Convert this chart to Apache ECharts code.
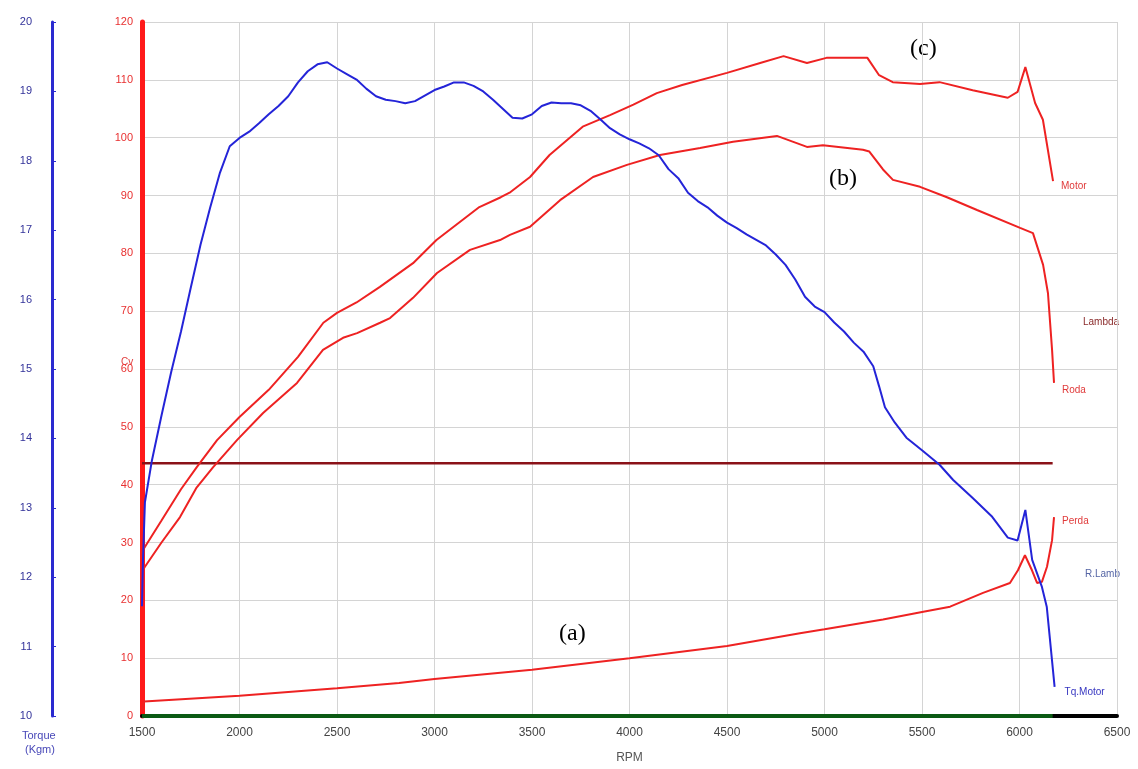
<!DOCTYPE html>
<html>
<head>
<meta charset="utf-8">
<script src="https://cdn.jsdelivr.net/npm/echarts@6/dist/echarts.min.js"></script>
<style>
  html, body { margin: 0; padding: 0; background: #fff; }
  #chart { width: 1138px; height: 769px; }
</style>
</head>
<body>
<div id="chart"></div>
<script>
// curva (c): potência no motor (Cv)
const motorRpm = [1500, 1505, 1600, 1700, 1780, 1885, 2000, 2150, 2300, 2430, 2500, 2600, 2720, 2890, 3010, 3230, 3340, 3390, 3490, 3590, 3760, 3900, 4020, 4140, 4270, 4500, 4670, 4790, 4910, 5010, 5220, 5280, 5350, 5490, 5590, 5760, 5940, 5990, 6030, 6080, 6120, 6172]
const motorCv = [27.5, 28.7, 33.8, 39.2, 43, 47.7, 51.7, 56.4, 62.1, 68, 69.7, 71.5, 74.2, 78.3, 82.3, 88, 89.7, 90.6, 93.2, 97, 101.9, 103.9, 105.7, 107.7, 109.1, 111.2, 112.9, 114.1, 112.9, 113.8, 113.8, 110.8, 109.6, 109.3, 109.6, 108.2, 106.9, 107.9, 112.2, 106, 103.1, 92.5]

// curva (b): potência na roda (Cv)
const rodaRpm = [1500, 1515, 1600, 1695, 1780, 1864, 1987, 2121, 2295, 2428, 2531, 2603, 2721, 2772, 2890, 3013, 3182, 3336, 3387, 3490, 3644, 3813, 3987, 4156, 4362, 4531, 4756, 4910, 4992, 5197, 5230, 5300, 5351, 5490, 5628, 5782, 6003, 6069, 6121, 6146, 6167, 6177]
const rodaCv = [25, 25.8, 30, 34.4, 39.5, 43, 47.7, 52.4, 57.6, 63.3, 65.4, 66.2, 68, 68.8, 72.3, 76.6, 80.6, 82.3, 83.2, 84.6, 89.2, 93.2, 95.3, 97, 98.2, 99.3, 100.3, 98.4, 98.7, 97.9, 97.6, 94.5, 92.7, 91.5, 89.7, 87.5, 84.4, 83.5, 78, 73.1, 63.3, 57.6]

// curva (a): perdas (Cv)
const perdaRpm = [1500, 1510, 2000, 2500, 2818, 3000, 3500, 4000, 4500, 4874, 5000, 5300, 5500, 5644, 5813, 5951, 5992, 6028, 6064, 6090, 6115, 6141, 6167, 6177]
const perdaCv = [1, 2.5, 3.5, 4.8, 5.7, 6.4, 8, 10, 12.1, 14.3, 15, 16.7, 18, 18.9, 21.3, 23, 25.2, 27.8, 25.2, 23, 23.2, 25.8, 30.4, 34.4]

// torque do motor (Kgm)
const torqueRpm = [1500, 1505, 1515, 1550, 1600, 1650, 1700, 1750, 1800, 1850, 1900, 1950, 2000, 2050, 2100, 2150, 2200, 2250, 2300, 2350, 2400, 2450, 2500, 2550, 2600, 2650, 2700, 2750, 2800, 2850, 2900, 2950, 3000, 3050, 3100, 3150, 3200, 3250, 3300, 3350, 3400, 3450, 3500, 3550, 3600, 3650, 3700, 3750, 3800, 3850, 3900, 3950, 4000, 4050, 4100, 4150, 4200, 4250, 4300, 4350, 4400, 4450, 4500, 4550, 4600, 4650, 4700, 4750, 4800, 4850, 4900, 4950, 5000, 5050, 5100, 5150, 5200, 5250, 5280, 5310, 5360, 5420, 5500, 5590, 5660, 5760, 5860, 5940, 5990, 6030, 6065, 6115, 6140, 6180]
const torqueKgm = [11.58, 12.25, 13.08, 13.67, 14.33, 14.96, 15.54, 16.17, 16.79, 17.33, 17.83, 18.21, 18.33, 18.42, 18.54, 18.67, 18.79, 18.93, 19.13, 19.29, 19.39, 19.42, 19.33, 19.25, 19.17, 19.04, 18.93, 18.88, 18.86, 18.83, 18.86, 18.94, 19.02, 19.07, 19.13, 19.13, 19.08, 19.0, 18.88, 18.75, 18.62, 18.61, 18.67, 18.79, 18.84, 18.83, 18.83, 18.8, 18.72, 18.6, 18.47, 18.38, 18.31, 18.25, 18.18, 18.08, 17.88, 17.75, 17.54, 17.42, 17.33, 17.21, 17.11, 17.03, 16.94, 16.86, 16.78, 16.65, 16.5, 16.29, 16.04, 15.9, 15.82, 15.67, 15.54, 15.38, 15.25, 15.04, 14.75, 14.45, 14.23, 14.01, 13.83, 13.62, 13.4, 13.14, 12.87, 12.57, 12.53, 12.97, 12.25, 11.86, 11.57, 10.42]

// lambda (linha horizontal) e linha de base verde
const lambdaRpm = [1500, 6170]
const lambdaCv = [43.7, 43.7]
const baseRpm = [1500, 6170]
const baseCv = [0, 0]

// eixos
const rpmTicks = [1500, 6500, 500]
const cvTicks = [0, 120, 10]
const torqueTicks = [10, 20, 1]

const pairs = (xs, ys) => xs.map((x, i) => [x, ys[i]])

const RED = '#ee2222'
const BLUE = '#2424d8'

const mChart = echarts.init(document.getElementById('chart'))

const options = {
  animation: false,
  backgroundColor: '#fff',
  grid: {
    left: 142,
    right: 21,
    top: 22,
    bottom: 53
  },
  xAxis: {
    type: 'value',
    min: rpmTicks[0],
    max: rpmTicks[1],
    interval: rpmTicks[2],
    name: 'RPM',
    nameLocation: 'middle',
    nameGap: 36,
    nameTextStyle: { color: '#555', fontSize: 12, fontFamily: 'Liberation Sans' },
    axisLine: { show: true, onZero: false, lineStyle: { color: '#000', width: 4 } },
    axisTick: { show: false },
    axisLabel: { color: '#444', fontSize: 12, fontFamily: 'Liberation Sans', margin: 11, formatter: (v) => String(v) },
    splitLine: { show: true, lineStyle: { color: '#d4d4d4', width: 1 } }
  },
  yAxis: [
    {
      // Cv
      type: 'value',
      position: 'left',
      min: cvTicks[0],
      max: cvTicks[1],
      interval: cvTicks[2],
      axisLine: { show: true, onZero: false, lineStyle: { color: '#ff1a1a', width: 5 } },
      axisTick: { show: false },
      axisLabel: { color: '#e83030', fontSize: 11, fontFamily: 'Liberation Sans', margin: 9 },
      splitLine: { show: true, lineStyle: { color: '#d4d4d4', width: 1 } }
    },
    {
      // Torque
      type: 'value',
      position: 'left',
      offset: 90,
      min: torqueTicks[0],
      max: torqueTicks[1],
      interval: torqueTicks[2],
      axisLine: { show: true, onZero: false, lineStyle: { color: '#2a2ad0', width: 3 } },
      axisTick: { show: true, length: 4, inside: true, lineStyle: { color: '#2a2ad0', width: 1 } },
      axisLabel: { color: '#33339a', fontSize: 11, fontFamily: 'Liberation Sans', margin: 20 },
      splitLine: { show: false }
    }
  ],
  series: [
    {
      name: 'Base',
      type: 'line',
      showSymbol: false,
      data: pairs(baseRpm, baseCv),
      lineStyle: { color: '#0b5a14', width: 4 },
      z: 3
    },
    {
      name: 'Lambda',
      type: 'line',
      showSymbol: false,
      data: pairs(lambdaRpm, lambdaCv),
      lineStyle: { color: '#8a1218', width: 2.5 }
    },
    {
      name: 'Perda',
      type: 'line',
      showSymbol: false,
      data: pairs(perdaRpm, perdaCv),
      lineStyle: { color: RED, width: 2 },
      endLabel: { show: true, formatter: 'Perda', color: '#e03a3a', fontSize: 10, fontFamily: 'Liberation Sans', offset: [0, 4] }
    },
    {
      name: 'Roda',
      type: 'line',
      showSymbol: false,
      data: pairs(rodaRpm, rodaCv),
      lineStyle: { color: RED, width: 2 },
      endLabel: { show: true, formatter: 'Roda', color: '#e03a3a', fontSize: 10, fontFamily: 'Liberation Sans', offset: [0, 7] }
    },
    {
      name: 'Motor',
      type: 'line',
      showSymbol: false,
      data: pairs(motorRpm, motorCv),
      lineStyle: { color: RED, width: 2 },
      endLabel: { show: true, formatter: 'Motor', color: '#e03a3a', fontSize: 10, fontFamily: 'Liberation Sans', offset: [0, 5] }
    },
    {
      name: 'Tq.Motor',
      type: 'line',
      yAxisIndex: 1,
      showSymbol: false,
      data: pairs(torqueRpm, torqueKgm),
      lineStyle: { color: BLUE, width: 2 },
      endLabel: { show: true, formatter: 'Tq.Motor', color: '#3535c0', fontSize: 10, fontFamily: 'Liberation Sans', offset: [2, 5] }
    }
  ],
  graphic: [
    { type: 'text', left: 22, top: 730, style: { text: 'Torque', fill: '#4848b8', font: '11px Liberation Sans' } },
    { type: 'text', left: 25, top: 744, style: { text: '(Kgm)', fill: '#4848b8', font: '11px Liberation Sans' } },
    { type: 'text', left: 121, top: 357, style: { text: 'Cv', fill: '#e03a3a', font: '10px Liberation Sans' } },
    { type: 'text', left: 1083, top: 317, style: { text: 'Lambda', fill: '#8a2a2a', font: '10px Liberation Sans' } },
    { type: 'text', left: 1085, top: 569, style: { text: 'R.Lamb', fill: '#5565a5', font: '10px Liberation Sans' } },
    { type: 'text', left: 559, top: 622, style: { text: '(a)', fill: '#000', font: '24px Liberation Serif' } },
    { type: 'text', left: 829, top: 167, style: { text: '(b)', fill: '#000', font: '24px Liberation Serif' } },
    { type: 'text', left: 910, top: 37, style: { text: '(c)', fill: '#000', font: '24px Liberation Serif' } }
  ]
}
mChart.setOption(options)
</script>
</body>
</html>
